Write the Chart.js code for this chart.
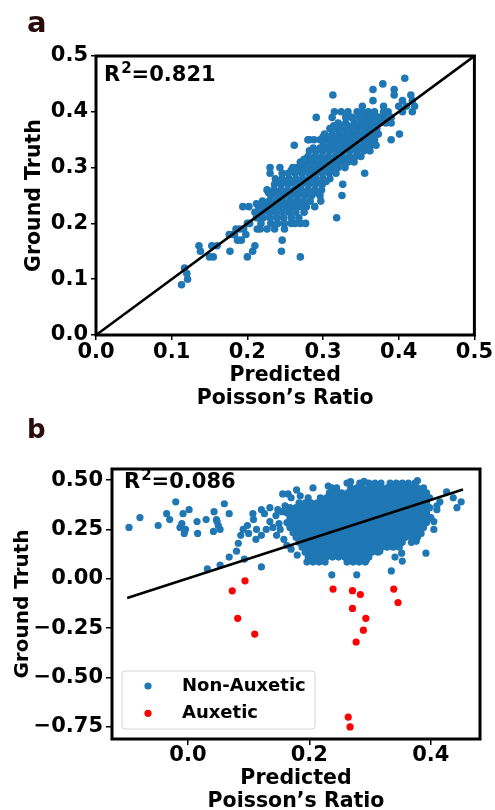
<!DOCTYPE html>
<html>
<head>
<meta charset="utf-8">
<script src="https://cdn.jsdelivr.net/npm/chart.js@4.4.0/dist/chart.umd.min.js"></script>
<style>
  html, body { margin: 0; padding: 0; background: #fff; overflow: hidden; }
  #wrapA { position: absolute; left: 0; top: 0; width: 495px; height: 410px; }
  #wrapB { position: absolute; left: 0; top: 405px; width: 495px; height: 415px; }
</style>
</head>
<body>
<div id="wrapA"><canvas id="chartA"></canvas></div>
<div id="wrapB"><canvas id="chartB"></canvas></div>
<script>
// ---- panel a : predicted vs ground truth ----
const xTicksA = [0, 0.1, 0.2, 0.3, 0.4, 0.5];
const yTicksA = [0, 0.1, 0.2, 0.3, 0.4, 0.5];
const fitA = [[0, 0], [0.5, 0.5]];

// sparse points (upper end, outliers)
const sparseA = [
  [0.408,0.46],[0.379,0.45],[0.366,0.44],[0.394,0.44],[0.394,0.43],[0.313,0.43],[0.416,0.43],
  [0.405,0.42],[0.418,0.42],[0.366,0.42],[0.421,0.41],[0.410,0.41],[0.352,0.41],[0.380,0.41],
  [0.386,0.40],[0.400,0.41],[0.405,0.40],[0.418,0.40],[0.374,0.39],[0.380,0.40],[0.390,0.39],
  [0.390,0.38],[0.401,0.36],[0.390,0.35],[0.355,0.29],[0.326,0.27],[0.291,0.39],[0.262,0.34],
  [0.282,0.35],[0.288,0.35],[0.318,0.21],[0.325,0.25],[0.270,0.14],[0.246,0.17],[0.245,0.15],
  [0.270,0.20],[0.277,0.20],[0.263,0.20],[0.230,0.30],[0.243,0.30],[0.260,0.30],[0.230,0.29]
];
// low tail
const tailA = [
  [0.113,0.09],[0.117,0.12],[0.121,0.10],[0.120,0.11],[0.136,0.16],[0.138,0.15],[0.150,0.14],
  [0.155,0.14],[0.153,0.16],[0.160,0.16],[0.177,0.15],[0.176,0.18],[0.183,0.18],[0.187,0.17],
  [0.190,0.19],[0.200,0.14],[0.207,0.15],[0.210,0.16],[0.213,0.19],[0.194,0.23],[0.181,0.18],
  [0.192,0.17],[0.198,0.18],[0.203,0.20],[0.217,0.19],[0.195,0.19],[0.185,0.19],[0.226,0.19],
  [0.236,0.19],[0.249,0.19]
];
// dense core along the diagonal
const coreA = [
  [0.315,0.40],[0.324,0.40],[0.333,0.40],[0.345,0.40],[0.352,0.40],[0.360,0.40],[0.368,0.40],
  [0.312,0.39],[0.330,0.39],[0.338,0.39],[0.347,0.39],[0.356,0.39],[0.364,0.39],[0.372,0.39],[0.381,0.39],
  [0.320,0.38],[0.330,0.38],[0.341,0.38],[0.350,0.38],[0.358,0.38],[0.366,0.38],[0.375,0.38],[0.383,0.38],
  [0.309,0.37],[0.318,0.37],[0.327,0.37],[0.336,0.37],[0.345,0.37],[0.354,0.37],[0.362,0.37],[0.371,0.37],
  [0.302,0.36],[0.312,0.36],[0.321,0.36],[0.330,0.36],[0.339,0.36],[0.348,0.36],[0.357,0.36],[0.366,0.36],[0.373,0.36],
  [0.280,0.35],[0.296,0.35],[0.305,0.35],[0.314,0.35],[0.323,0.35],[0.332,0.35],[0.341,0.35],[0.350,0.35],[0.359,0.35],[0.368,0.35],
  [0.300,0.34],[0.309,0.34],[0.318,0.34],[0.327,0.34],[0.336,0.34],[0.345,0.34],[0.354,0.34],[0.363,0.34],[0.370,0.34],
  [0.282,0.33],[0.291,0.33],[0.300,0.33],[0.309,0.33],[0.318,0.33],[0.327,0.33],[0.336,0.33],[0.345,0.33],[0.354,0.33],[0.362,0.33],
  [0.280,0.32],[0.289,0.32],[0.298,0.32],[0.307,0.32],[0.316,0.32],[0.325,0.32],[0.334,0.32],[0.343,0.32],[0.350,0.32],
  [0.270,0.31],[0.279,0.31],[0.288,0.31],[0.297,0.31],[0.306,0.31],[0.315,0.31],[0.324,0.31],[0.333,0.31],[0.341,0.31],
  [0.266,0.30],[0.275,0.30],[0.284,0.30],[0.293,0.30],[0.302,0.30],[0.311,0.30],[0.320,0.30],[0.329,0.30],
  [0.246,0.29],[0.254,0.29],[0.263,0.29],[0.272,0.29],[0.281,0.29],[0.290,0.29],[0.299,0.29],[0.308,0.29],[0.317,0.29],
  [0.237,0.28],[0.246,0.28],[0.255,0.28],[0.264,0.28],[0.273,0.28],[0.282,0.28],[0.291,0.28],[0.300,0.28],[0.309,0.28],
  [0.236,0.27],[0.245,0.27],[0.254,0.27],[0.263,0.27],[0.272,0.27],[0.281,0.27],[0.290,0.27],[0.299,0.27],
  [0.226,0.26],[0.235,0.26],[0.244,0.26],[0.253,0.26],[0.262,0.26],[0.271,0.26],[0.280,0.26],[0.289,0.26],[0.298,0.26],
  [0.231,0.25],[0.240,0.25],[0.249,0.25],[0.258,0.25],[0.267,0.25],[0.276,0.25],[0.285,0.25],[0.296,0.25],
  [0.220,0.24],[0.229,0.24],[0.238,0.24],[0.247,0.24],[0.256,0.24],[0.265,0.24],[0.274,0.24],[0.283,0.24],[0.297,0.24],
  [0.202,0.23],[0.215,0.23],[0.224,0.23],[0.233,0.23],[0.242,0.23],[0.251,0.23],[0.260,0.23],[0.269,0.23],[0.278,0.23],[0.289,0.23],
  [0.210,0.22],[0.219,0.22],[0.228,0.22],[0.237,0.22],[0.246,0.22],[0.255,0.22],[0.264,0.22],[0.275,0.22],
  [0.212,0.21],[0.221,0.21],[0.230,0.21],[0.239,0.21],[0.248,0.21],[0.258,0.21],[0.268,0.21],
  [0.200,0.20],[0.218,0.20],[0.231,0.20],[0.240,0.20],[0.249,0.20],[0.258,0.20]
];
// in-between points that close the gaps of the densest part
const fillA = [
  [0.314,0.375],[0.323,0.375],[0.332,0.375],[0.341,0.375],[0.350,0.375],[0.359,0.375],[0.368,0.375],
  [0.300,0.355],[0.309,0.355],[0.318,0.355],[0.327,0.355],[0.336,0.355],[0.345,0.355],[0.354,0.355],[0.363,0.355],
  [0.287,0.335],[0.296,0.335],[0.305,0.335],[0.314,0.335],[0.323,0.335],[0.332,0.335],[0.341,0.335],[0.350,0.335],[0.359,0.335],
  [0.275,0.315],[0.284,0.315],[0.293,0.315],[0.302,0.315],[0.311,0.315],[0.320,0.315],[0.329,0.315],[0.338,0.315],
  [0.258,0.295],[0.268,0.295],[0.277,0.295],[0.286,0.295],[0.295,0.295],[0.304,0.295],[0.313,0.295],
  [0.241,0.275],[0.250,0.275],[0.259,0.275],[0.268,0.275],[0.277,0.275],[0.286,0.275],[0.295,0.275],[0.304,0.275],
  [0.228,0.255],[0.237,0.255],[0.246,0.255],[0.255,0.255],[0.264,0.255],[0.273,0.255],[0.282,0.255],[0.291,0.255],
  [0.212,0.235],[0.221,0.235],[0.230,0.235],[0.239,0.235],[0.248,0.235],[0.257,0.235],[0.266,0.235],[0.275,0.235]
];

// ---- panel b : with auxetic samples ----
const xTicksB = [0, 0.2, 0.4];
const yTicksB = [-0.75, -0.5, -0.25, 0, 0.25, 0.5];
const fitB = [[-0.1, -0.097], [0.453, 0.452]];

const leftB = [
  [-0.097,0.26],[-0.079,0.31],[-0.049,0.27],[-0.035,0.33],[-0.030,0.30],[-0.020,0.39],[-0.013,0.26],
  [-0.010,0.28],[-0.006,0.23],[-0.004,0.25],[-0.008,0.33],[0.002,0.35],[0.015,0.29],[0.016,0.23],
  [0.030,0.30],[0.043,0.34],[0.042,0.24],[0.047,0.30],[0.053,0.25],[0.050,0.27],[0.060,0.38],
  [0.068,0.33],[0.048,0.29],
  [0.032,0.05],[0.053,0.07],[0.068,0.11],[0.080,0.14],[0.093,0.10],[0.121,0.06],
  [0.083,0.18],[0.087,0.22],[0.091,0.25],[0.098,0.27],[0.108,0.30],[0.121,0.35],[0.126,0.33],
  [0.135,0.29],[0.140,0.26],[0.146,0.22],[0.121,0.22],[0.113,0.25],[0.129,0.25],[0.107,0.33],
  [0.135,0.36],[0.100,0.23],[0.112,0.20],[0.150,0.28],[0.145,0.32],[0.152,0.25],[0.158,0.20],
  [0.163,0.17],[0.170,0.15],[0.180,0.12],[0.155,0.34],[0.160,0.37],[0.148,0.35],
  [0.156,0.43],[0.165,0.43],[0.179,0.45],[0.206,0.46],[0.231,0.47],[0.237,0.46],[0.170,0.41],[0.185,0.42]
];
const edgeB = [
  [0.378,0.497],[0.290,0.493],[0.268,0.492],
  [0.437,0.41],[0.450,0.39],[0.443,0.36],[0.426,0.44],[0.415,0.39],[0.410,0.35],[0.405,0.29],
  [0.405,0.25],[0.400,0.31],[0.410,0.37],
  [0.237,0.02],[0.278,0.02],[0.335,0.04],[0.353,0.09],[0.341,0.11],[0.392,0.13],[0.376,0.19],
  [0.352,0.13],[0.294,0.095],[0.384,0.23],[0.333,0.175],[0.316,0.14],[0.296,0.13]
];
const coreB = [
  [0.262,0.485],[0.283,0.485],[0.298,0.485],[0.308,0.485],[0.318,0.485],[0.333,0.485],[0.343,0.485],[0.353,0.485],[0.363,0.485],[0.374,0.485],
  [0.245,0.46],[0.268,0.46],[0.278,0.46],[0.288,0.46],[0.298,0.46],[0.308,0.46],[0.318,0.46],[0.328,0.46],[0.338,0.46],[0.348,0.46],[0.358,0.46],[0.368,0.46],[0.378,0.46],[0.388,0.46],
  [0.233,0.435],[0.243,0.435],[0.253,0.435],[0.263,0.435],[0.273,0.435],[0.283,0.435],[0.293,0.435],[0.303,0.435],[0.313,0.435],[0.323,0.435],[0.333,0.435],[0.343,0.435],[0.353,0.435],[0.363,0.435],[0.373,0.435],[0.383,0.435],[0.393,0.435],
  [0.198,0.41],[0.218,0.41],[0.228,0.41],[0.238,0.41],[0.248,0.41],[0.258,0.41],[0.268,0.41],[0.278,0.41],[0.288,0.41],[0.298,0.41],[0.308,0.41],[0.318,0.41],[0.328,0.41],[0.338,0.41],[0.348,0.41],[0.358,0.41],[0.368,0.41],[0.378,0.41],[0.388,0.41],[0.398,0.41],
  [0.183,0.385],[0.193,0.385],[0.203,0.385],[0.213,0.385],[0.223,0.385],[0.233,0.385],[0.243,0.385],[0.253,0.385],[0.263,0.385],[0.273,0.385],[0.283,0.385],[0.293,0.385],[0.303,0.385],[0.313,0.385],[0.323,0.385],[0.333,0.385],[0.343,0.385],[0.353,0.385],[0.363,0.385],[0.373,0.385],[0.383,0.385],[0.393,0.385],
  [0.168,0.36],[0.178,0.36],[0.188,0.36],[0.198,0.36],[0.208,0.36],[0.218,0.36],[0.228,0.36],[0.238,0.36],[0.248,0.36],[0.258,0.36],[0.268,0.36],[0.278,0.36],[0.288,0.36],[0.298,0.36],[0.308,0.36],[0.318,0.36],[0.328,0.36],[0.338,0.36],[0.348,0.36],[0.358,0.36],[0.368,0.36],[0.378,0.36],[0.388,0.36],[0.398,0.36],
  [0.163,0.335],[0.173,0.335],[0.183,0.335],[0.193,0.335],[0.203,0.335],[0.213,0.335],[0.223,0.335],[0.233,0.335],[0.243,0.335],[0.253,0.335],[0.263,0.335],[0.273,0.335],[0.283,0.335],[0.293,0.335],[0.303,0.335],[0.313,0.335],[0.323,0.335],[0.333,0.335],[0.343,0.335],[0.353,0.335],[0.363,0.335],[0.373,0.335],[0.383,0.335],[0.393,0.335],
  [0.168,0.31],[0.178,0.31],[0.188,0.31],[0.198,0.31],[0.208,0.31],[0.218,0.31],[0.228,0.31],[0.238,0.31],[0.248,0.31],[0.258,0.31],[0.268,0.31],[0.278,0.31],[0.288,0.31],[0.298,0.31],[0.308,0.31],[0.318,0.31],[0.328,0.31],[0.338,0.31],[0.348,0.31],[0.358,0.31],[0.368,0.31],[0.378,0.31],[0.388,0.31],[0.398,0.31],
  [0.163,0.285],[0.173,0.285],[0.183,0.285],[0.193,0.285],[0.203,0.285],[0.213,0.285],[0.223,0.285],[0.233,0.285],[0.243,0.285],[0.253,0.285],[0.263,0.285],[0.273,0.285],[0.283,0.285],[0.293,0.285],[0.303,0.285],[0.313,0.285],[0.323,0.285],[0.333,0.285],[0.343,0.285],[0.353,0.285],[0.363,0.285],[0.373,0.285],[0.383,0.285],[0.393,0.285],
  [0.168,0.26],[0.178,0.26],[0.188,0.26],[0.198,0.26],[0.208,0.26],[0.218,0.26],[0.228,0.26],[0.238,0.26],[0.248,0.26],[0.258,0.26],[0.268,0.26],[0.278,0.26],[0.288,0.26],[0.298,0.26],[0.308,0.26],[0.318,0.26],[0.328,0.26],[0.338,0.26],[0.348,0.26],[0.358,0.26],[0.368,0.26],[0.378,0.26],[0.388,0.26],
  [0.173,0.235],[0.183,0.235],[0.193,0.235],[0.203,0.235],[0.213,0.235],[0.223,0.235],[0.233,0.235],[0.243,0.235],[0.253,0.235],[0.263,0.235],[0.273,0.235],[0.283,0.235],[0.293,0.235],[0.303,0.235],[0.313,0.235],[0.323,0.235],[0.333,0.235],[0.343,0.235],[0.353,0.235],[0.363,0.235],[0.373,0.235],[0.383,0.235],
  [0.178,0.21],[0.188,0.21],[0.198,0.21],[0.208,0.21],[0.218,0.21],[0.228,0.21],[0.238,0.21],[0.248,0.21],[0.258,0.21],[0.268,0.21],[0.278,0.21],[0.288,0.21],[0.298,0.21],[0.308,0.21],[0.318,0.21],[0.328,0.21],[0.338,0.21],[0.348,0.21],[0.358,0.21],[0.368,0.21],[0.378,0.21],
  [0.183,0.185],[0.193,0.185],[0.203,0.185],[0.213,0.185],[0.223,0.185],[0.233,0.185],[0.243,0.185],[0.253,0.185],[0.263,0.185],[0.273,0.185],[0.283,0.185],[0.293,0.185],[0.303,0.185],[0.313,0.185],[0.323,0.185],[0.333,0.185],[0.343,0.185],[0.353,0.185],[0.368,0.185],
  [0.188,0.16],[0.198,0.16],[0.208,0.16],[0.218,0.16],[0.228,0.16],[0.238,0.16],[0.248,0.16],[0.258,0.16],[0.268,0.16],[0.278,0.16],[0.288,0.16],[0.298,0.16],[0.308,0.16],[0.318,0.16],[0.328,0.16],[0.338,0.16],[0.348,0.16],
  [0.193,0.135],[0.203,0.135],[0.213,0.135],[0.223,0.135],[0.233,0.135],[0.243,0.135],[0.253,0.135],[0.263,0.135],[0.273,0.135],[0.283,0.135],[0.293,0.135],[0.303,0.135],[0.313,0.135],
  [0.198,0.11],[0.208,0.11],[0.218,0.11],[0.228,0.11],[0.238,0.11],[0.248,0.11],[0.258,0.11],[0.268,0.11],[0.278,0.11],[0.288,0.11],[0.298,0.11],
  [0.196,0.085],[0.206,0.085],[0.216,0.085],[0.226,0.085],[0.262,0.085],[0.272,0.085],[0.282,0.085],[0.292,0.085]
];
const auxeticB = [
  [0.073,-0.061],[0.094,-0.01],[0.082,-0.20],[0.110,-0.28],[0.239,-0.052],[0.271,-0.06],[0.284,-0.08],
  [0.271,-0.15],[0.293,-0.20],[0.289,-0.26],[0.277,-0.32],[0.339,-0.052],[0.346,-0.12],[0.264,-0.70],[0.267,-0.75]
];

const BLUE = '#1f77b4';
const RED = '#ff0000';
const toXY = (arr) => arr.map(([x, y]) => ({ x, y }));
const minus = (s) => s.replace('-', '\u2212');

Chart.defaults.font.family = "'DejaVu Sans', sans-serif";
Chart.defaults.font.weight = 'bold';
Chart.defaults.color = '#000';

// black box round the plot area, like matplotlib spines
const framePlugin = {
  id: 'frame',
  afterDatasetsDraw(chart) {
    const { ctx, chartArea: a } = chart;
    ctx.save();
    ctx.strokeStyle = '#000';
    ctx.lineWidth = 3;
    ctx.strokeRect(a.left, a.top, a.right - a.left, a.bottom - a.top);
    ctx.restore();
  }
};

// panel letter + R^2 note
const notePlugin = {
  id: 'note',
  afterDraw(chart, args, opts) {
    const ctx = chart.ctx;
    ctx.save();
    ctx.fillStyle = '#2a0c0c';
    ctx.font = `bold ${opts.letterSize}px 'DejaVu Sans'`;
    ctx.textBaseline = 'alphabetic';
    ctx.fillText(opts.letter, opts.letterX, opts.letterY);

    ctx.fillStyle = '#000';
    ctx.textBaseline = 'middle';
    let x = opts.x;
    ctx.font = "bold 21px 'DejaVu Sans'";
    ctx.fillText('R', x, opts.y);
    x += ctx.measureText('R').width;
    ctx.font = "bold 15px 'DejaVu Sans'";
    ctx.fillText('2', x + 1, opts.y - 7);
    x += ctx.measureText('2').width + 1;
    ctx.font = "bold 21px 'DejaVu Sans'";
    ctx.fillText('=' + opts.value, x, opts.y);
    ctx.restore();
  }
};

// legend box drawn inside panel b
const boxLegend = {
  id: 'boxLegend',
  afterDraw(chart, args, opts) {
    if (!opts.show) return;
    const ctx = chart.ctx;
    const { left, top, width, height } = opts;
    ctx.save();
    ctx.beginPath();
    ctx.roundRect(left, top, width, height, 3);
    ctx.fillStyle = 'rgba(255,255,255,0.8)';
    ctx.fill();
    ctx.strokeStyle = '#d6d6d6';
    ctx.lineWidth = 1;
    ctx.stroke();
    const items = chart.data.datasets.filter(d => d.label);
    items.forEach((d, i) => {
      const cy = top + 15 + i * 27.3;
      ctx.beginPath();
      ctx.arc(left + 26, cy, 3.6, 0, Math.PI * 2);
      ctx.fillStyle = d.backgroundColor;
      ctx.fill();
      ctx.fillStyle = '#000';
      ctx.font = "bold 18px 'DejaVu Sans'";
      ctx.textBaseline = 'middle';
      ctx.fillText(d.label, left + 60, cy);
    });
    ctx.restore();
  }
};

function axis(opts) {
  return {
    type: 'linear',
    position: opts.position,
    min: opts.min,
    max: opts.max,
    afterFit: opts.fit,
    afterBuildTicks: (s) => { s.ticks = opts.ticks.map(v => ({ value: v })); },
    ticks: {
      autoSkip: false,
      maxRotation: 0,
      padding: opts.pad,
      font: { size: 21, weight: 'bold', lineHeight: 1 },
      color: '#000',
      callback: opts.fmt
    },
    grid: {
      drawOnChartArea: false,
      drawTicks: true,
      tickLength: opts.tick,
      color: '#000',
      lineWidth: 1.5
    },
    border: { display: false },
    title: opts.title
  };
}

new Chart(document.getElementById('chartA'), {
  type: 'scatter',
  data: {
    datasets: [
      { type: 'line', data: toXY(fitA), borderColor: '#000', borderWidth: 2.6, pointRadius: 0, order: 0 },
      { data: toXY(coreA.concat(fillA, sparseA, tailA)), backgroundColor: BLUE, borderWidth: 0, pointRadius: 3.8, order: 1 }
    ]
  },
  options: {
    responsive: true,
    maintainAspectRatio: false,
    animation: false,
    events: [],
    layout: { padding: { left: 0, top: 56, right: 20, bottom: 0 } },
    plugins: {
      legend: { display: false },
      tooltip: { enabled: false },
      note: { letter: 'a', letterSize: 29, letterX: 27, letterY: 32, x: 104, y: 76, value: '0.821' },
      boxLegend: { show: false }
    },
    scales: {
      x: axis({
        position: 'bottom', min: 0, max: 0.5, ticks: xTicksA, pad: 2, tick: 5,
        fit: (s) => { s.height = 75; },
        fmt: (v) => v.toFixed(1),
        title: { display: true, text: ['Predicted', 'Poisson\u2019s Ratio'], font: { size: 20.5, weight: 'bold', lineHeight: 1.12 }, padding: { top: 0, bottom: 0 }, color: '#000' }
      }),
      y: axis({
        position: 'left', min: 0, max: 0.5, ticks: yTicksA, pad: 3, tick: 5,
        fit: (s) => { s.width = 96; },
        fmt: (v) => v.toFixed(1),
        title: { display: true, text: 'Ground Truth', font: { size: 20.5, weight: 'bold', lineHeight: 1.2 }, padding: { top: 22.7, bottom: 0 }, color: '#000' }
      })
    }
  },
  plugins: [framePlugin, notePlugin, boxLegend]
});

new Chart(document.getElementById('chartB'), {
  type: 'scatter',
  data: {
    datasets: [
      { type: 'line', data: toXY(fitB), borderColor: '#000', borderWidth: 2.6, pointRadius: 0, order: 0 },
      { label: 'Non-Auxetic', data: toXY(coreB.concat(leftB, edgeB)), backgroundColor: BLUE, borderWidth: 0, pointRadius: 3.6, order: 2 },
      { label: 'Auxetic', data: toXY(auxeticB), backgroundColor: RED, borderWidth: 0, pointRadius: 3.6, order: 1 }
    ]
  },
  options: {
    responsive: true,
    maintainAspectRatio: false,
    animation: false,
    events: [],
    layout: { padding: { left: 0, top: 64, right: 15, bottom: 0 } },
    plugins: {
      legend: { display: false },
      tooltip: { enabled: false },
      note: { letter: 'b', letterSize: 26, letterX: 27, letterY: 33, x: 124, y: 78, value: '0.086' },
      boxLegend: { show: true, left: 122, top: 266, width: 193, height: 58 }
    },
    scales: {
      x: axis({
        position: 'bottom', min: -0.125, max: 0.481, ticks: xTicksB, pad: 0, tick: 6,
        fit: (s) => { s.height = 81; },
        fmt: (v) => minus(v.toFixed(1)),
        title: { display: true, text: ['Predicted', 'Poisson\u2019s Ratio'], font: { size: 20.5, weight: 'bold', lineHeight: 1.12 }, padding: { top: 0, bottom: 6.5 }, color: '#000' }
      }),
      y: axis({
        position: 'left', min: -0.811, max: 0.556, ticks: yTicksB, pad: 3, tick: 6,
        fit: (s) => { s.width = 112; },
        fmt: (v) => minus(v.toFixed(2)),
        title: { display: true, text: 'Ground Truth', font: { size: 20, weight: 'bold', lineHeight: 1.2 }, padding: { top: 11, bottom: 0 }, color: '#000' }
      })
    }
  },
  plugins: [framePlugin, notePlugin, boxLegend]
});
</script>
</body>
</html>
